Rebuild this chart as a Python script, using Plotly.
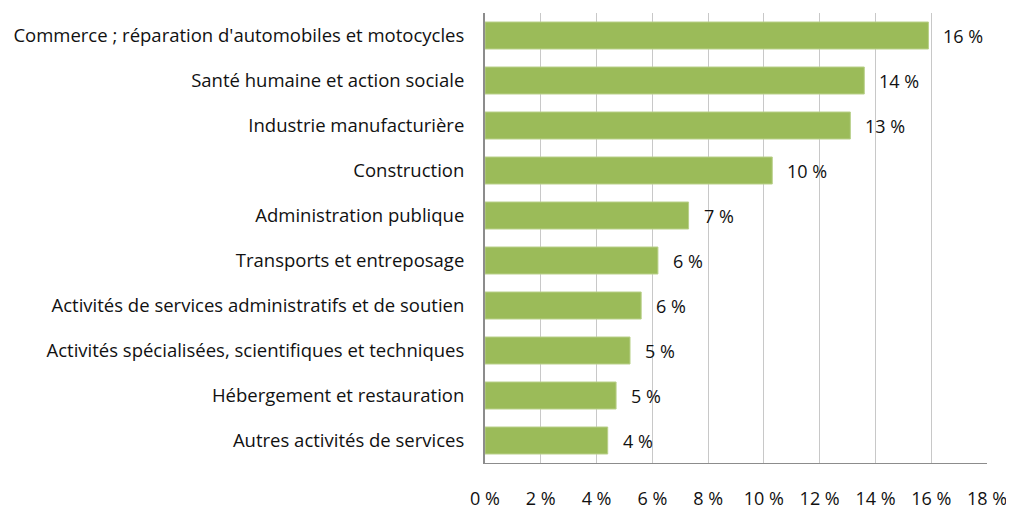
import plotly.graph_objects as go

secteurs = [
    "Commerce ; réparation d'automobiles et motocycles",
    "Santé humaine et action sociale",
    "Industrie manufacturière",
    "Construction",
    "Administration publique",
    "Transports et entreposage",
    "Activités de services administratifs et de soutien",
    "Activités spécialisées, scientifiques et techniques",
    "Hébergement et restauration",
    "Autres activités de services",
]
parts = [15.9, 13.6, 13.1, 10.3, 7.3, 6.2, 5.6, 5.2, 4.7, 4.4]
etiquettes = ["16 %", "14 %", "13 %", "10 %", "7 %", "6 %", "6 %", "5 %", "5 %", "4 %"]
ticks_x = list(range(0, 19, 2))

font = "'Open Sans', sans-serif"

fig = go.Figure(go.Bar(
    x=parts, y=secteurs, orientation="h",
    marker=dict(color="#9bbb59", line=dict(color="#b9d08a", width=1)),
    hoverinfo="skip",
))

for s, v, t in zip(secteurs, parts, etiquettes):
    fig.add_annotation(x=v, y=s, text=t, showarrow=False, xanchor="left",
                       xshift=13, font=dict(family=font, size=18, color="#111111"))

# the page adds ~8px body margin, so the margins are shifted to compensate
fig.update_layout(
    width=1014, height=508,
    margin=dict(l=477, r=35, t=5, b=53),
    paper_bgcolor="white", plot_bgcolor="white",
    bargap=0.4,
    showlegend=False,
    font=dict(family=font, size=18, color="#111111"),
)
fig.update_xaxes(
    range=[0, 18], tickvals=ticks_x, ticktext=[f"{v} %" for v in ticks_x],
    showgrid=True, gridcolor="#c8c8c8", gridwidth=1,
    showline=True, linecolor="#8c8c8c", linewidth=1,
    zeroline=False, ticks="", ticklabelstandoff=19, automargin=False,
    tickfont=dict(size=18),
)
fig.update_yaxes(
    categoryorder="array", categoryarray=secteurs[::-1],
    showline=True, linecolor="#8c8c8c", linewidth=2,
    ticks="", ticklabelstandoff=15, showgrid=False, automargin=False,
    tickfont=dict(size=18.5),
)

fig.write_html("out.html")
